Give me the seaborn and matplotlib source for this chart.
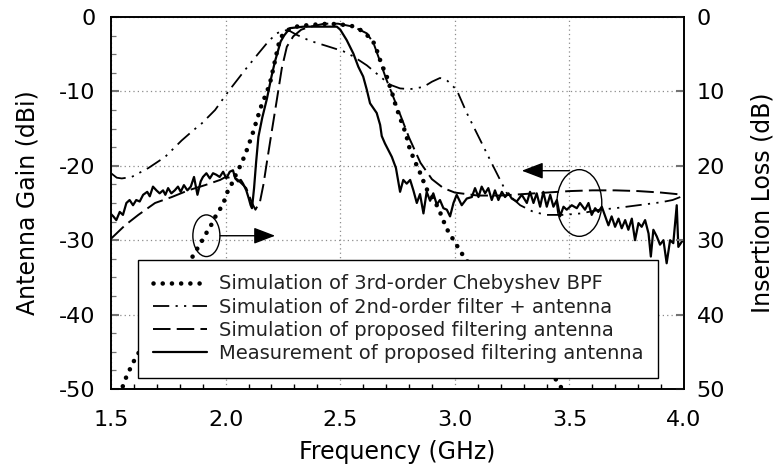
import numpy as np
import matplotlib
matplotlib.use("Agg")
import matplotlib.pyplot as plt
from matplotlib.patches import Ellipse
from matplotlib.ticker import MultipleLocator
import seaborn as sns

# ---------------- data ----------------
# 3rd-order Chebyshev BPF, insertion loss (dB) on the right axis
bpf_freq = [1.50, 1.547, 1.565, 1.595, 1.612, 1.70, 1.80, 1.863, 1.885, 1.904, 1.922,
            1.942, 1.954, 1.976, 1.994, 2.008, 2.024, 2.038, 2.053, 2.07, 2.082, 2.096,
            2.114, 2.125, 2.136, 2.146, 2.157, 2.169, 2.182, 2.194, 2.201, 2.208, 2.216,
            2.223, 2.23, 2.237, 2.25, 2.28, 2.32, 2.40, 2.45, 2.50, 2.55, 2.586, 2.616,
            2.647, 2.662, 2.674, 2.688, 2.703, 2.717, 2.729, 2.739, 2.749, 2.761, 2.775,
            2.79, 2.797, 2.812, 2.822, 2.841, 2.851, 2.866, 2.88, 2.906, 2.921, 2.935,
            2.947, 2.962, 2.976, 2.996, 3.016, 3.037, 3.10, 3.20, 3.30, 3.40, 3.445,
            3.466, 3.50]
bpf_loss = [53.0, 50.0, 48.5, 46.5, 45.6, 40.8, 35.3, 31.8, 30.7, 29.7, 28.7,
            27.7, 26.9, 25.8, 24.7, 23.5, 22.6, 21.6, 20.7, 19.6, 18.7, 17.6,
            16.0, 15.0, 13.8, 12.9, 11.8, 10.9, 9.9, 8.8, 7.9, 6.9, 5.8,
            4.8, 3.8, 3.1, 2.3, 1.6, 1.2, 1.0, 0.9, 1.0, 1.2, 1.7, 2.4,
            3.5, 4.7, 5.8, 6.9, 8.0, 9.4, 10.5, 11.6, 12.5, 13.6, 14.7,
            16.1, 17.2, 18.3, 19.3, 20.3, 21.2, 22.3, 23.3, 24.4, 25.3, 26.2,
            27.2, 28.2, 29.2, 30.0, 31.1, 32.1, 34.8, 38.8, 42.8, 47.0, 48.9,
            49.9, 51.5]

# 2nd-order filter + antenna (gain, dBi)
f2_freq = [1.50, 1.525, 1.547, 1.59, 1.663, 1.736, 1.808, 1.86, 1.896, 1.954, 2.012,
           2.085, 2.143, 2.186, 2.223, 2.252, 2.275, 2.31, 2.368, 2.441, 2.513, 2.557,
           2.616, 2.674, 2.717, 2.761, 2.805, 2.863, 2.90, 2.935, 2.965, 3.008, 3.052,
           3.11, 3.168, 3.227, 3.285, 3.343, 3.401, 3.474, 3.55, 3.633, 3.70, 3.80,
           3.90, 3.95, 4.00]
f2_gain = [-21.0, -21.6, -21.7, -21.5, -20.3, -18.8, -16.6, -15.2, -14.3, -12.5, -10.0,
           -7.1, -4.9, -3.3, -2.2, -1.8, -1.8, -2.4, -3.2, -3.9, -4.6, -5.3,
           -6.5, -8.0, -9.1, -9.6, -9.7, -9.4, -8.7, -8.2, -8.5, -9.8, -12.9,
           -16.5, -20.1, -23.7, -25.3, -26.2, -26.6, -26.6, -26.4, -25.9, -25.7, -25.3,
           -24.9, -24.6, -24.0]

# proposed filtering antenna, simulation (gain, dBi)
sim_freq = [1.50, 1.561, 1.619, 1.692, 1.765, 1.837, 1.91, 1.976, 2.00, 2.05, 2.09,
            2.115, 2.13, 2.15, 2.165, 2.18, 2.20, 2.223, 2.245, 2.267, 2.295, 2.33,
            2.37, 2.43, 2.49, 2.557, 2.616, 2.645, 2.674, 2.70, 2.75, 2.80, 2.85,
            2.90, 2.95, 3.00, 3.10, 3.20, 3.30, 3.40, 3.50, 3.60, 3.70, 3.80, 3.90, 4.00]
sim_gain = [-29.8, -28.0, -26.6, -25.0, -24.2, -23.3, -22.6, -21.9, -21.5, -21.8, -23.0,
            -25.0, -25.9, -24.8, -22.5, -19.5, -15.6, -11.2, -6.9, -4.0, -2.6, -1.7,
            -1.3, -0.9, -0.9, -1.3, -2.2, -3.5, -6.0, -8.3, -12.2, -16.2, -19.6,
            -21.8, -23.0, -23.6, -24.0, -24.0, -23.8, -23.6, -23.4, -23.3, -23.3, -23.4,
            -23.6, -23.9]

# proposed filtering antenna, measurement (gain, dBi)
meas_freq = [1.500, 1.510, 1.523, 1.538, 1.552, 1.567, 1.581, 1.596, 1.610, 1.625, 1.640,
             1.658, 1.669, 1.683, 1.698, 1.712, 1.727, 1.737, 1.749, 1.763, 1.778, 1.792,
             1.804, 1.818, 1.833, 1.848, 1.862, 1.877, 1.891, 1.901, 1.916, 1.931, 1.945,
             1.959, 1.974, 1.989, 2.003, 2.018, 2.032, 2.042, 2.054, 2.066, 2.076, 2.090,
             2.101, 2.109, 2.115, 2.124, 2.133, 2.143, 2.160, 2.180, 2.200, 2.215, 2.230,
             2.240, 2.255, 2.280, 2.340, 2.410, 2.485, 2.500, 2.528, 2.557, 2.579, 2.600,
             2.616, 2.630, 2.659, 2.674, 2.681, 2.695, 2.725, 2.743, 2.761, 2.775, 2.790,
             2.805, 2.819, 2.834, 2.848, 2.863, 2.877, 2.892, 2.906, 2.921, 2.935, 2.950,
             2.965, 2.979, 2.994, 3.008, 3.030, 3.052, 3.074, 3.088, 3.103, 3.117, 3.132,
             3.146, 3.161, 3.175, 3.190, 3.205, 3.219, 3.234, 3.248, 3.270, 3.292, 3.314,
             3.328, 3.343, 3.357, 3.372, 3.386, 3.401, 3.416, 3.430, 3.445, 3.459, 3.474,
             3.488, 3.510, 3.532, 3.546, 3.568, 3.583, 3.597, 3.612, 3.626, 3.641, 3.656,
             3.670, 3.684, 3.699, 3.714, 3.728, 3.743, 3.757, 3.772, 3.786, 3.801, 3.815,
             3.830, 3.845, 3.855, 3.866, 3.881, 3.895, 3.910, 3.924, 3.939, 3.953, 3.968,
             3.975, 3.990, 4.000]
meas_gain = [-26.5, -26.8, -27.3, -26.2, -26.6, -25.0, -24.6, -25.3, -24.6, -24.8, -23.9,
             -23.5, -24.1, -22.8, -23.3, -23.7, -23.3, -23.9, -23.0, -23.7, -23.3, -22.8,
             -23.5, -22.6, -23.3, -22.8, -21.5, -23.9, -22.1, -21.5, -21.0, -21.7, -21.0,
             -21.2, -21.5, -20.8, -21.7, -20.8, -20.6, -21.7, -22.1, -21.9, -22.4, -23.3,
             -24.4, -25.3, -25.7, -23.0, -19.5, -16.1, -13.5, -11.0, -8.0, -6.0, -4.4,
             -3.3, -2.5, -1.5, -1.3, -1.3, -1.3, -1.7, -3.1, -4.9, -6.7, -8.0,
             -9.8, -11.6, -12.9, -14.5, -16.0, -17.0, -18.8, -20.3, -23.5, -21.9, -22.4,
             -21.9, -23.3, -25.0, -23.8, -26.4, -23.5, -24.7, -23.7, -25.2, -24.6, -25.7,
             -25.9, -26.8, -25.0, -23.9, -25.3, -24.4, -24.2, -23.0, -24.2, -22.8, -23.7,
             -23.0, -24.6, -23.3, -24.6, -23.5, -24.2, -23.7, -24.4, -24.8, -23.9, -25.0,
             -23.5, -25.0, -23.7, -25.5, -23.5, -25.5, -23.9, -25.5, -24.6, -26.8, -25.5,
             -25.9, -25.3, -25.7, -25.0, -25.9, -25.0, -26.6, -25.7, -26.2, -25.5, -26.8,
             -28.0, -26.8, -28.2, -27.1, -28.4, -27.3, -28.6, -27.1, -30.0, -27.7, -28.2,
             -27.3, -29.1, -32.2, -28.6, -29.5, -30.6, -30.0, -33.1, -30.0, -30.4, -25.3,
             -30.9, -30.2, -30.0]

legend_labels = ["Simulation of 3rd-order Chebyshev BPF",
                 "Simulation of 2nd-order filter + antenna",
                 "Simulation of proposed filtering antenna",
                 "Measurement of proposed filtering antenna"]

x_ticks = [1.5, 2.0, 2.5, 3.0, 3.5, 4.0]
gain_ticks = [-50, -40, -30, -20, -10, 0]
loss_ticks = [50, 40, 30, 20, 10, 0]

# ---------------- style ----------------
sns.set_style("white")
plt.rcParams["font.family"] = ["DejaVu Sans"]
plt.rcParams["text.color"] = "#222222"

fig = plt.figure(figsize=(7.77, 4.68), dpi=100)
ax = fig.add_axes([0.1429, 0.1688, 0.7375, 0.7949])
ax2 = ax.twinx()

sns.lineplot(x=f2_freq, y=f2_gain, ax=ax, color="black", lw=1.3, estimator=None,
             legend=False, linestyle=(0, (9, 3.5, 1.2, 3.5, 1.2, 3.5)))
h_f2 = ax.lines[-1]
sns.lineplot(x=sim_freq, y=sim_gain, ax=ax, color="black", lw=1.4, estimator=None,
             legend=False, linestyle=(0, (9, 3.2)))
h_sim = ax.lines[-1]
sns.lineplot(x=meas_freq, y=meas_gain, ax=ax, color="black", lw=1.6, estimator=None,
             legend=False, linestyle="-")
h_meas = ax.lines[-1]

sns.lineplot(x=bpf_freq, y=bpf_loss, ax=ax2, color="black", lw=3.3, estimator=None,
             legend=False, linestyle=(0, (0.01, 2.0)), dash_capstyle="round")
h_bpf = ax2.lines[-1]
h_bpf.set_dash_capstyle("round")

# axes ranges and ticks
ax.set_xlim(1.5, 4.0)
ax.set_ylim(-50, 0)
ax2.set_ylim(50, 0)
ax.set_xticks(x_ticks)
ax.set_xticklabels([f"{v:.1f}" for v in x_ticks])
ax.set_yticks(gain_ticks)
ax.set_yticklabels([str(v) for v in gain_ticks])
ax2.set_yticks(loss_ticks)
ax2.set_yticklabels([str(v) for v in loss_ticks])
ax.xaxis.set_minor_locator(MultipleLocator(0.1))
ax.yaxis.set_minor_locator(MultipleLocator(2.5))

ax.tick_params(axis="x", which="major", direction="in", length=6.5, width=1.2,
               labelsize=16, pad=15, colors="black")
ax.tick_params(axis="x", which="minor", direction="in", length=3.6, width=1.0,
               colors="black", bottom=True)
ax.tick_params(axis="y", which="major", direction="in", length=6, width=1.5,
               labelsize=16, pad=11, color="0.45", labelcolor="black")
ax.tick_params(axis="y", which="minor", direction="in", length=3.5, width=0.9,
               color="0.45", left=True)
ax2.tick_params(axis="y", which="major", direction="in", length=6, width=1.5,
                labelsize=16, pad=9, color="0.45", labelcolor="black")

for a in (ax, ax2):
    for s in a.spines.values():
        s.set_color("black")
        s.set_linewidth(1.2)

ax.grid(True, which="major", color="0.55", linestyle=(0, (1, 2.5)), linewidth=0.9)
ax.set_axisbelow(True)

ax.set_xlabel("Frequency (GHz)", fontsize=17, labelpad=7, color="black")
ax.set_ylabel("Antenna Gain (dBi)", fontsize=17, labelpad=14, color="black")
ax2.set_ylabel("Insertion Loss (dB)", fontsize=17, labelpad=18, color="black")

# annotations: ellipses and arrows
ax.add_patch(Ellipse((1.916, -29.4), 0.118, 5.6, fill=False, ec="black", lw=1.0, zorder=5))
ax.add_patch(Ellipse((3.543, -25.0), 0.196, 8.96, fill=False, ec="black", lw=1.0, zorder=5))
arrow_kw = dict(arrowstyle="-|>,head_length=1.1,head_width=0.42", color="black", lw=1.0,
                shrinkA=0, shrinkB=0, mutation_scale=12)
ax.annotate("", xy=(2.216, -29.4), xytext=(1.976, -29.4), arrowprops=arrow_kw, zorder=5)
ax.annotate("", xy=(3.292, -20.66), xytext=(3.50, -20.66), arrowprops=arrow_kw, zorder=5)

# legend
leg = ax2.legend([h_bpf, h_f2, h_sim, h_meas], legend_labels, loc="lower left",
                 bbox_to_anchor=(0.047, 0.03), borderaxespad=0, frameon=True,
                 fancybox=False, edgecolor="black", framealpha=1, facecolor="white",
                 fontsize=14, handlelength=2.8, handletextpad=0.6, borderpad=0.75,
                 labelspacing=0.22)
leg.get_frame().set_linewidth(1.0)
for t in leg.get_texts():
    t.set_color("#222222")

fig.savefig("out.png", dpi=100)
